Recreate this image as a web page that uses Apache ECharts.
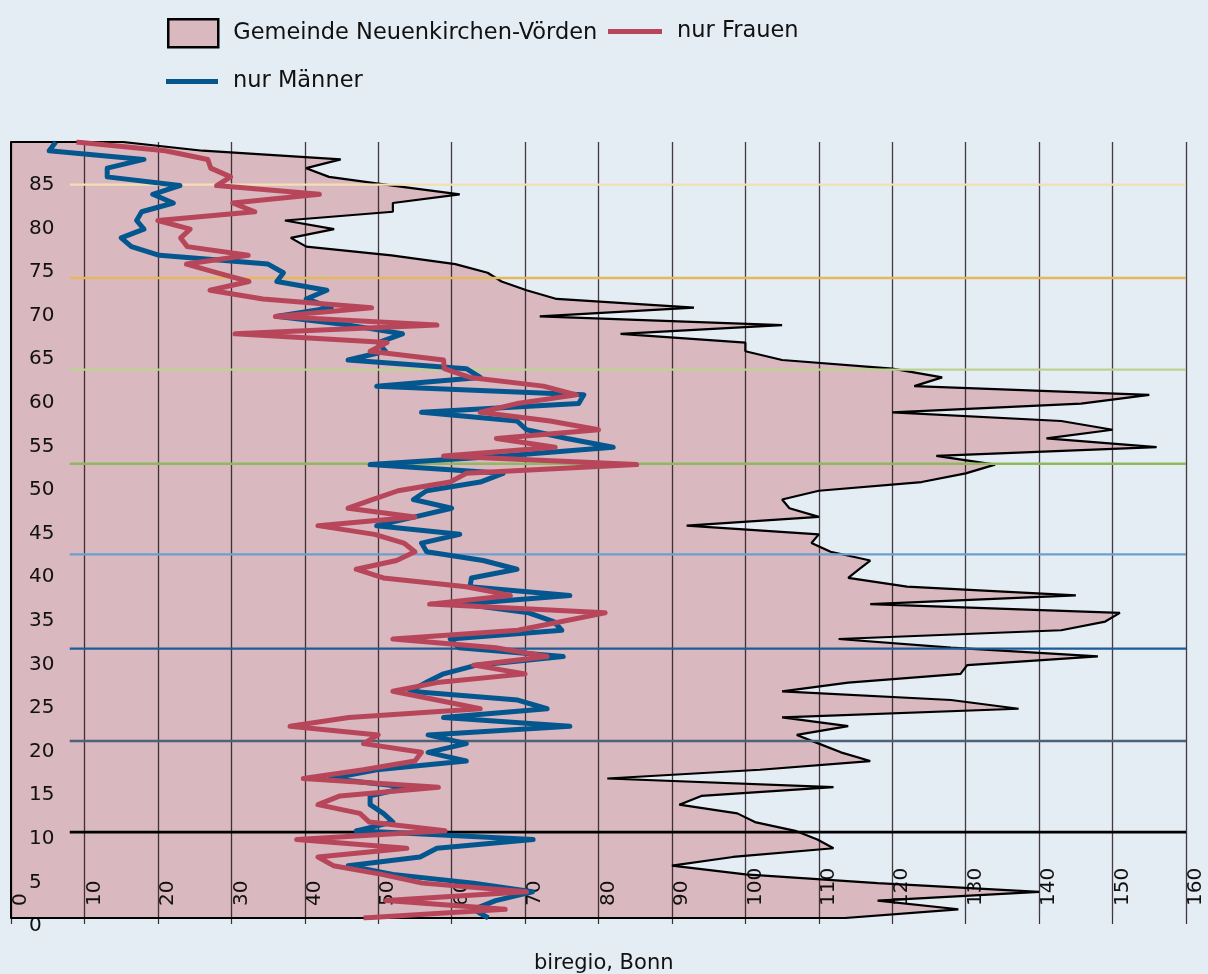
<!DOCTYPE html>
<html>
<head>
<meta charset="utf-8">
<script src="https://cdn.jsdelivr.net/npm/echarts@6/dist/echarts.min.js"></script>
<style>
html,body{margin:0;padding:0;background:#e4ecf4;}
#chart{width:1208px;height:974px;}
</style>
</head>
<body>
<div id="chart"></div>
<script>
// ages (bottom to top)
const ages = ['0','1','2','3','4','5','6','7','8','9','10','11','12','13','14','15','16','17','18','19',
  '20','21','22','23','24','25','26','27','28','29','30','31','32','33','34','35','36','37','38','39',
  '40','41','42','43','44','45','46','47','48','49','50','51','52','53','54','55','56','57','58','59',
  '60','61','62','63','64','65','66','67','68','69','70','71','72','73','74','75','76','77','78','79',
  '80','81','82','83','84','85','86','87','88','89'];

// Gemeinde Neuenkirchen-Vörden (total), age 0..89
const gemeinde = [113.5,129,118,140,118,100,90,98.3,112,109.8,
  106.8,101.3,98.9,91,94,112,81.2,102,117,113,
  110,107,114,105,137.2,128,105,114,129.3,130.2,
  148,128,112.7,143,149,151,117,145,122,114,
  115.5,117,111.6,109,110,92,110,106,105,110,
  124,130,134,126,156,141,150,143,120,145.7,
  155,123,126.8,120,105,100,100,83,105,72,
  93,74.3,70.2,66.8,64.9,60.5,51.8,40.2,38.1,44,
  37.3,52,52,61.1,52,43.3,40.2,44.9,26.1,15.2];

// nur Frauen, age 0..89
const frauen = [48,67.3,51.1,70.2,56,50.5,43.9,41.8,53.9,38.9,
  59.1,48.8,47.5,41.8,44.8,58.2,39.8,48,55,55.9,
  48,50,38,46,63.9,58,52,58,70,63,
  73,66,52,69,75,80.9,57,68,62,50.7,
  47,52.5,55,53.5,49.5,41.8,55,45.9,49.3,52.7,
  59.8,62,85.2,58.9,74.1,66.1,80,73.4,63.9,68.9,
  77,72.5,62.5,59,58.9,48.9,51.2,30.5,58,36,
  49.1,34.3,27.1,32.4,28.1,23.9,32.3,24,23.1,24.4,
  20,33.2,30.2,42,28,29.9,27.2,26.8,21,8.9];

// nur Männer, age 0..89
const maenner = [65,63,66,71,63,52,45.9,55.7,58,71.1,
  47,52,50.7,48.9,48.9,54,43.5,49.8,62,56.8,
  62,56.8,76.1,58.9,73,69,54.3,56.5,58.9,63.4,
  75.2,61,59.8,75,73.9,70.5,61.5,76.1,62.5,62.7,
  68.9,64.3,56.6,55.9,61.1,49.8,55,60,54.8,56.6,
  63.9,67,48.9,67,82,75.7,70.2,68.9,55.9,77.3,
  78,49.8,63.9,62,45.9,51,50,53.3,46,36.1,
  43.6,40.2,43,36.2,37.1,35,20.2,16.4,15,18.1,
  17.1,17.8,22.1,19.3,23,13.1,13.1,18.1,5.2,6.1];

// horizontal reference lines (age position) and their colours
const refAges = [9.85,20.3,30.9,41.7,52.1,62.9,73.4,84.1];
const refColors = ['#000000','#4b6278','#1d5c95','#6d9fcc','#90b85e','#bcd38f','#e5b85e','#f3dfb1'];
const refFrom = 8, refTo = 160;

const xMin = 0, xMax = 160, xStep = 10;

const C_AREA = '#d9b8c0', C_RED = '#b8465b', C_BLUE = '#04568f';
const FONT = 'DejaVu Sans';

const outline = [[0, 0]].concat(gemeinde.map((v, i) => [v, i])).concat([[0, ages.length - 1]]);

const series = [
  {
    name: 'Gemeinde Neuenkirchen-Vörden', type: 'line', yAxisIndex: 0, data: gemeinde,
    symbol: 'none', lineStyle: {width: 0, opacity: 0},
    areaStyle: {color: C_AREA, opacity: 1}, z: 1, silent: true
  },
  {
    name: 'outline', type: 'line', yAxisIndex: 1, data: outline, symbol: 'none',
    lineStyle: {color: '#000', width: 2.2}, z: 3, silent: true
  }
];
refAges.forEach((a, i) => {
  series.push({
    name: 'ref' + i, type: 'line', yAxisIndex: 1, symbol: 'none',
    data: [[refFrom, a], [refTo, a]],
    lineStyle: {color: refColors[i], width: i === 0 ? 2.6 : 2.3}, z: 4, silent: true
  });
});
series.push({
  name: 'nur Männer', type: 'line', yAxisIndex: 0, data: maenner, symbol: 'none',
  lineStyle: {color: C_BLUE, width: 5, join: 'round'}, itemStyle: {color: C_BLUE}, z: 5
});
series.push({
  name: 'nur Frauen', type: 'line', yAxisIndex: 0, data: frauen, symbol: 'none',
  lineStyle: {color: C_RED, width: 5, join: 'round'}, itemStyle: {color: C_RED}, z: 6
});

const legendText = {fontFamily: FONT, fontSize: 22.5, color: '#111', padding: [0, 0, 0, 10]};
const lineIcon = 'path://M0,0H54V5H0Z';

const option = {
  backgroundColor: '#e4ecf4',
  animation: false,
  textStyle: {fontFamily: FONT},
  title: {
    text: 'biregio, Bonn', left: 529, top: 948,
    textStyle: {fontFamily: FONT, fontSize: 21, fontWeight: 'normal', color: '#111'}
  },
  legend: [
    {
      data: [{name: 'Gemeinde Neuenkirchen-Vörden', icon: 'rect',
        itemStyle: {color: C_AREA, borderColor: '#000', borderWidth: 2.5}}],
      left: 167, top: 18, padding: 0, itemWidth: 50, itemHeight: 28,
      textStyle: legendText, selectedMode: false
    },
    {
      data: [{name: 'nur Frauen', icon: lineIcon, itemStyle: {color: C_RED}}],
      left: 608, top: 20, padding: 0, itemWidth: 54, itemHeight: 28,
      textStyle: legendText, selectedMode: false
    },
    {
      data: [{name: 'nur Männer', icon: lineIcon, itemStyle: {color: C_BLUE}}],
      left: 166, top: 70, padding: 0, itemWidth: 52, itemHeight: 28,
      textStyle: legendText, selectedMode: false
    }
  ],
  grid: {left: 11, right: 22, top: 142, bottom: 56, containLabel: false},
  xAxis: {
    type: 'value', min: xMin, max: xMax, interval: xStep, z: 2,
    axisLine: {show: false},
    axisTick: {show: true, length: 6, lineStyle: {color: '#333', width: 1.2}},
    splitLine: {show: true, lineStyle: {color: 'rgba(25,15,20,0.8)', width: 1.3}},
    axisLabel: {
      inside: true, rotate: 90, margin: 12, fontSize: 20, color: '#111', fontFamily: FONT,
      verticalAlign: 'top', showMinLabel: true, showMaxLabel: true
    }
  },
  yAxis: [
    {
      type: 'category', data: ages, boundaryGap: false, z: 3,
      axisLine: {show: true, lineStyle: {color: '#000', width: 2}},
      axisTick: {show: false},
      splitLine: {show: false},
      axisLabel: {
        inside: true, interval: 4, margin: 18, fontSize: 20, color: '#111', fontFamily: FONT,
        verticalAlign: 'top', lineHeight: 16
      }
    },
    {type: 'value', min: 0, max: ages.length - 1, show: false}
  ],
  series: series
};

const chart = echarts.init(document.getElementById('chart'), null, {renderer: 'canvas'});
chart.setOption(option);
</script>
</body>
</html>
